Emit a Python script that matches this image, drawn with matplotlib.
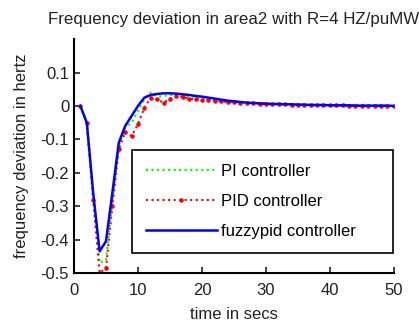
import matplotlib
matplotlib.use("Agg")
import matplotlib.pyplot as plt
import numpy as np

plt.rcParams['font.family'] = ['Liberation Sans', 'DejaVu Sans']

# time samples (secs)
t = np.arange(1, 51)

pi_ctrl = [0, -0.05, -0.27, -0.47, -0.46, -0.29, -0.12, -0.065, -0.05, -0.015,
           0.02, 0.04, 0.028, 0.03, 0.033, 0.032, 0.031, 0.029, 0.027, 0.025,
           0.022, 0.02, 0.017, 0.015, 0.013, 0.011, 0.01, 0.009, 0.008, 0.007,
           0.006, 0.006, 0.005, 0.005, 0.004, 0.004, 0.003, 0.003, 0.003, 0.002,
           0.002, 0.002, 0.002, 0.001, 0.001, 0.001, 0.001, 0.001, 0.0, 0.0]

pid_ctrl = [0, -0.05, -0.28, -0.50, -0.485, -0.30, -0.13, -0.078, -0.09, -0.055,
            -0.005, 0.025, 0.02, 0.01, 0.022, 0.03, 0.027, 0.022, 0.02, 0.018,
            0.017, 0.015, 0.014, 0.012, 0.011, 0.01, 0.009, 0.008, 0.007, 0.006,
            0.006, 0.005, 0.005, 0.004, 0.004, 0.003, 0.003, 0.003, 0.002, 0.002,
            0.002, 0.002, 0.001, 0.001, 0.001, 0.001, 0.001, 0.0, 0.0, 0.0]

fuzzy_ctrl = [0, -0.05, -0.26, -0.435, -0.405, -0.26, -0.11, -0.06, -0.03, 0.0,
              0.025, 0.033, 0.036, 0.038, 0.038, 0.037, 0.035, 0.033, 0.03, 0.028,
              0.025, 0.022, 0.019, 0.016, 0.014, 0.012, 0.01, 0.009, 0.008, 0.007,
              0.006, 0.006, 0.005, 0.005, 0.004, 0.004, 0.003, 0.003, 0.003, 0.002,
              0.002, 0.002, 0.002, 0.001, 0.001, 0.001, 0.001, 0.001, 0.001, 0.0]

fig = plt.figure(figsize=(4.19, 3.26), dpi=100)
ax = fig.add_axes([0.1766, 0.1626, 0.7634, 0.7172])

ax.plot(t, pi_ctrl, color=(0, 1, 0), linestyle=':', linewidth=1.5, label='PI controller')
ax.plot(t, pid_ctrl, color=(1, 0, 0), linestyle=':', linewidth=1.5, marker='.',
        markersize=4.5, label='PID controller')
ax.plot(t, fuzzy_ctrl, color=(0, 0, 1), linestyle='-', linewidth=1.8, label='fuzzypid controller')

ax.set_xlim(0, 50)
ax.set_ylim(-0.5, 0.2)
ax.set_xticks([0, 10, 20, 30, 40, 50])
ax.set_yticks([-0.5, -0.4, -0.3, -0.2, -0.1, 0, 0.1])
ax.set_yticklabels(['-0.5', '-0.4', '-0.3', '-0.2', '-0.1', '0', '0.1'])

ax.spines['top'].set_visible(False)
ax.spines['right'].set_visible(False)
for s in ['left', 'bottom']:
    ax.spines[s].set_linewidth(1.5)
ax.tick_params(direction='in', length=4, width=1.2, labelsize=12, colors='#222222')
ax.tick_params(axis='x', pad=7)

ax.set_title('Frequency deviation in area2 with R=4 HZ/puMW', fontsize=12.2, color='#222222', pad=11)
ax.set_xlabel('time in secs', fontsize=12, color='#222222', labelpad=7)
ax.set_ylabel('frequency deviation in hertz', fontsize=12, color='#222222', labelpad=8)

leg = ax.legend(loc='lower left', bbox_to_anchor=(0.181, 0.086, 0.816, 0.3), mode='expand',
                borderaxespad=0, fontsize=12, handlelength=4.25, labelspacing=0.9,
                fancybox=False, edgecolor='black', framealpha=1, borderpad=0.85,
                handletextpad=0.25)
leg.get_frame().set_linewidth(1.2)

fig.savefig('out.png', dpi=100)
